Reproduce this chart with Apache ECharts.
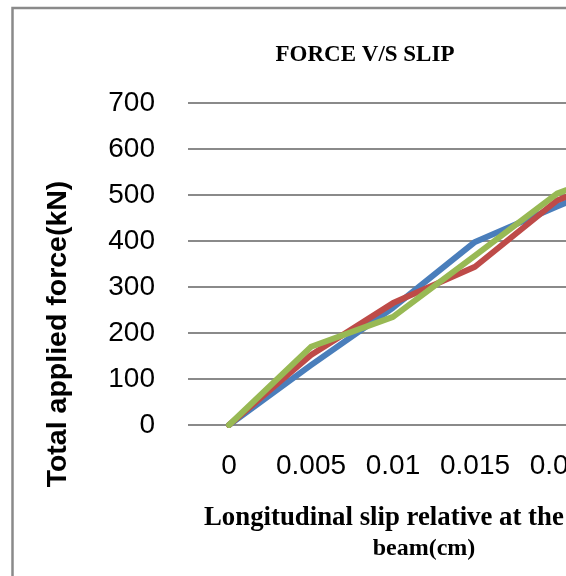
<!DOCTYPE html>
<html>
<head>
<meta charset="utf-8">
<title>FORCE V/S SLIP</title>
<script src="https://cdn.jsdelivr.net/npm/echarts@6/dist/echarts.min.js"></script>
<style>
  html, body { margin: 0; padding: 0; background: #fff; }
  #chart { width: 566px; height: 576px; }
</style>
</head>
<body>
<div id="chart"></div>
<script>
// Longitudinal slip (cm) categories and measured force (kN) per specimen
const slipCategories = ['0', '0.005', '0.01', '0.015', '0.02', '0.025'];
const forceSeries1 = [0, 130, 255, 398, 475, 550];
const forceSeries2 = [0, 152, 265, 344, 488, 560];
const forceSeries3 = [0, 170, 235, 368, 503, 570];
const forceTicks = [0, 100, 200, 300, 400, 500, 600, 700];

const chart = echarts.init(document.getElementById('chart'), null, { renderer: 'canvas' });

const lineStyleFor = (color) => ({ color: color, width: 6, cap: 'round', join: 'round' });

chart.setOption({
  animation: false,
  backgroundColor: '#ffffff',
  title: {
    text: 'FORCE V/S SLIP',
    left: 360,
    top: 39,
    textAlign: 'center',
    textStyle: {
      fontFamily: '"Liberation Serif", "Times New Roman", serif',
      fontWeight: 'bold',
      fontSize: 23,
      color: '#000'
    }
  },
  // plot area runs past the right edge of the canvas
  grid: {
    left: 188, top: 103, width: 492, height: 322,
    containLabel: false,
    outerBoundsMode: 'none'
  },
  xAxis: {
    type: 'category',
    data: slipCategories,
    boundaryGap: true,
    axisLine: { show: false },
    axisTick: { show: false },
    axisLabel: {
      interval: 0,
      hideOverlap: false,
      margin: 27,
      fontFamily: '"Liberation Sans", Arial, sans-serif',
      fontSize: 28,
      color: '#000'
    }
  },
  yAxis: {
    type: 'value',
    min: forceTicks[0],
    max: forceTicks[forceTicks.length - 1],
    interval: 100,
    axisLine: { show: false },
    axisTick: { show: false },
    axisLabel: {
      margin: 33,
      fontFamily: '"Liberation Sans", Arial, sans-serif',
      fontSize: 28,
      color: '#000'
    },
    splitLine: { lineStyle: { color: '#8a8a8a', width: 2 } }
  },
  series: [
    { type: 'line', data: forceSeries1, symbol: 'none', z: 2, lineStyle: lineStyleFor('#4a7ebb') },
    { type: 'line', data: forceSeries2, symbol: 'none', z: 3, lineStyle: lineStyleFor('#be4b48') },
    { type: 'line', data: forceSeries3, symbol: 'none', z: 4, lineStyle: lineStyleFor('#98b954') }
  ],
  graphic: [
    {
      type: 'rect',
      shape: { x: 12.5, y: 8, width: 800, height: 800 },
      style: { fill: 'none', stroke: '#8a8a8a', lineWidth: 2.5 },
      silent: true
    },
    {
      type: 'text',
      x: 58, y: 334,
      rotation: Math.PI / 2,
      style: {
        text: 'Total applied force(kN)',
        fontFamily: '"Liberation Sans", Arial, sans-serif',
        fontWeight: 'bold',
        fontSize: 28.5,
        fill: '#000',
        align: 'center',
        verticalAlign: 'middle'
      }
    },
    {
      type: 'text',
      x: 204, y: 518,
      style: {
        text: 'Longitudinal slip relative at the',
        fontFamily: '"Liberation Serif", "Times New Roman", serif',
        fontWeight: 'bold',
        fontSize: 26.8,
        fill: '#000',
        align: 'left',
        verticalAlign: 'middle'
      }
    },
    {
      type: 'text',
      x: 424, y: 549,
      style: {
        text: 'beam(cm)',
        fontFamily: '"Liberation Serif", "Times New Roman", serif',
        fontWeight: 'bold',
        fontSize: 24,
        fill: '#000',
        align: 'center',
        verticalAlign: 'middle'
      }
    }
  ]
});
</script>
</body>
</html>
